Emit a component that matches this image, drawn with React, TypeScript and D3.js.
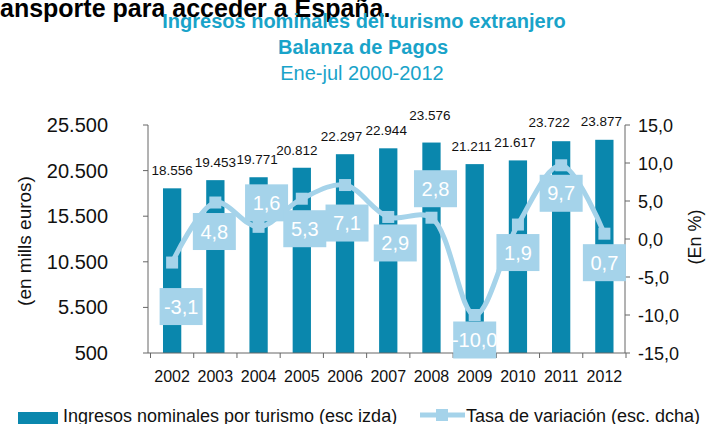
import { useEffect, useRef } from 'react'
import * as d3 from 'd3'

const years = ['2002', '2003', '2004', '2005', '2006', '2007', '2008', '2009', '2010', '2011', '2012']
const ingresos = [18556, 19453, 19771, 20812, 22297, 22944, 23576, 21211, 21617, 23722, 23877]
const tasa = [-3.1, 4.8, 1.6, 5.3, 7.1, 2.9, 2.8, -10.0, 1.9, 9.7, 0.7]
const leftTicks = [500, 5500, 10500, 15500, 20500, 25500]
const rightTicks = [-15, -10, -5, 0, 5, 10, 15]

// where each rate label box sits relative to its point (layout only)
const labelShift: [number, number][] = [
  [9, 44], [-1, 29], [8, -24], [3, 30], [2, 38], [7, 26], [4, -29], [0, 25], [0, 28], [0, 28], [0, 29],
]
// bar value labels: horizontal nudge and lift above the bar top
const barLabelDx = [0, 0, -1.5, -5, -3.5, -2, -1.5, -3, -3, -12, -3]
const barLabelLift = [13, 13, 13, 13, 13, 13, 23, 13, 13, 14, 14]

const BAR = '#0a87ad'
const LINE = '#a5d3ea'
const TITLE = '#19a3c9'
const FONT = "'Liberation Sans', Arial, sans-serif"

export default function App() {
  const ref = useRef<SVGSVGElement>(null)

  useEffect(() => {
    const svg = d3.select(ref.current)
    svg.selectAll('*').remove()

    const top = 125
    const bottom = 353
    const left = 148
    const right = 625

    const x = d3.scaleBand().domain(years).range([150.5, 626]).paddingInner(0.577).paddingOuter(0.289)
    const xc = d3.scaleBand().domain(years).range([150.5, 626])
    const yL = d3.scaleLinear().domain([500, 25500]).range([bottom, top])
    const yR = d3.scaleLinear().domain([-15, 15]).range([bottom, top])

    const g = svg.append('g').attr('font-family', FONT)

    // title
    g.append('text').attr('x', 0).attr('y', 17).attr('font-size', 25).attr('font-weight', 'bold')
      .attr('fill', '#000').text('ansporte para acceder a España.')
    g.append('text').attr('x', 364).attr('y', 28).attr('text-anchor', 'middle').attr('font-size', 20)
      .attr('font-weight', 'bold').attr('fill', TITLE).text('Ingresos nominales del turismo extranjero')
    g.append('text').attr('x', 363).attr('y', 54).attr('text-anchor', 'middle').attr('font-size', 20)
      .attr('font-weight', 'bold').attr('fill', TITLE).text('Balanza de Pagos')
    g.append('text').attr('x', 362).attr('y', 80).attr('text-anchor', 'middle').attr('font-size', 20)
      .attr('fill', TITLE).text('Ene-jul 2000-2012')

    // bars
    g.selectAll('rect.bar').data(ingresos).enter().append('rect')
      .attr('class', 'bar')
      .attr('x', (_, i) => x(years[i])!)
      .attr('width', x.bandwidth())
      .attr('y', d => yL(d))
      .attr('height', d => bottom - yL(d))
      .attr('fill', BAR)

    // axes
    const axisColor = '#666'
    g.append('line').attr('x1', left).attr('x2', left).attr('y1', top).attr('y2', bottom).attr('stroke', axisColor)
    g.append('line').attr('x1', right).attr('x2', right).attr('y1', top).attr('y2', bottom).attr('stroke', axisColor)
    g.append('line').attr('x1', left).attr('x2', right).attr('y1', bottom).attr('y2', bottom).attr('stroke', axisColor)

    leftTicks.forEach(t => {
      g.append('line').attr('x1', left - 5).attr('x2', left).attr('y1', yL(t)).attr('y2', yL(t)).attr('stroke', axisColor)
      g.append('text').attr('x', 108).attr('y', yL(t) + 7).attr('text-anchor', 'end').attr('font-size', 20)
        .attr('fill', '#111').text(d3.format(',')(t).replace(/,/g, '.'))
    })
    rightTicks.forEach(t => {
      g.append('line').attr('x1', right).attr('x2', right + 5).attr('y1', yR(t)).attr('y2', yR(t)).attr('stroke', axisColor)
      g.append('text').attr('x', 638).attr('y', yR(t) + 6.5).attr('font-size', 18)
        .attr('fill', '#111').text(t.toFixed(1).replace('.', ','))
    })
    const bounds = years.map(yr => xc(yr)!).concat([626])
    bounds.forEach(b => {
      g.append('line').attr('x1', b).attr('x2', b).attr('y1', bottom).attr('y2', bottom + 5).attr('stroke', axisColor)
    })
    years.forEach(yr => {
      g.append('text').attr('x', xc(yr)! + xc.bandwidth() / 2).attr('y', 381.5).attr('text-anchor', 'middle')
        .attr('font-size', 16).attr('fill', '#111').text(yr)
    })

    g.append('text').attr('transform', 'translate(31,241) rotate(-90)').attr('text-anchor', 'middle')
      .attr('font-size', 19).attr('fill', '#111').text('(en mills euros)')
    g.append('text').attr('transform', 'translate(701,237) rotate(-90)').attr('text-anchor', 'middle')
      .attr('font-size', 18).attr('fill', '#111').text('(En %)')

    // rate line
    const cx = (i: number) => xc(years[i])! + xc.bandwidth() / 2
    const line = d3.line<number>().x((_, i) => cx(i)).y(d => yR(d)).curve(d3.curveCatmullRom.alpha(0.5))
    g.append('path').datum(tasa).attr('d', line).attr('fill', 'none').attr('stroke', LINE).attr('stroke-width', 5)
    g.selectAll('rect.mk').data(tasa).enter().append('rect')
      .attr('class', 'mk')
      .attr('x', (_, i) => cx(i) - 6).attr('y', d => yR(d) - 6)
      .attr('width', 12).attr('height', 12).attr('fill', LINE)

    // rate labels
    tasa.forEach((v, i) => {
      const lx = cx(i) + labelShift[i][0]
      const ly = yR(v) + labelShift[i][1]
      g.append('rect').attr('x', lx - 21.5).attr('y', ly - 18.5).attr('width', 43).attr('height', 37).attr('fill', LINE)
      g.append('text').attr('x', lx).attr('y', ly + 7).attr('text-anchor', 'middle').attr('font-size', 20)
        .attr('fill', '#fff').text(v.toFixed(1).replace('.', ','))
    })

    // bar value labels
    ingresos.forEach((v, i) => {
      g.append('text').attr('x', cx(i) + barLabelDx[i]).attr('y', yL(v) - barLabelLift[i]).attr('text-anchor', 'middle')
        .attr('font-size', 13.5).attr('fill', '#111').text(d3.format(',')(v).replace(/,/g, '.'))
    })

    // legend
    g.append('rect').attr('x', 18).attr('y', 412).attr('width', 40).attr('height', 12).attr('fill', BAR)
    g.append('text').attr('x', 63).attr('y', 421.5).attr('font-size', 18).attr('fill', '#111')
      .text('Ingresos nominales por turismo (esc izda)')
    g.append('line').attr('x1', 420).attr('x2', 465).attr('y1', 415).attr('y2', 415).attr('stroke', LINE).attr('stroke-width', 5)
    g.append('rect').attr('x', 436).attr('y', 409).attr('width', 12).attr('height', 12).attr('fill', LINE)
    g.append('text').attr('x', 466).attr('y', 421.5).attr('font-size', 18).attr('fill', '#111')
      .text('Tasa de variación (esc. dcha)')
  }, [])

  return (
    <svg
      ref={ref}
      width={706}
      height={424}
      style={{ position: 'absolute', left: 0, top: 0, background: '#fff' }}
    />
  )
}
